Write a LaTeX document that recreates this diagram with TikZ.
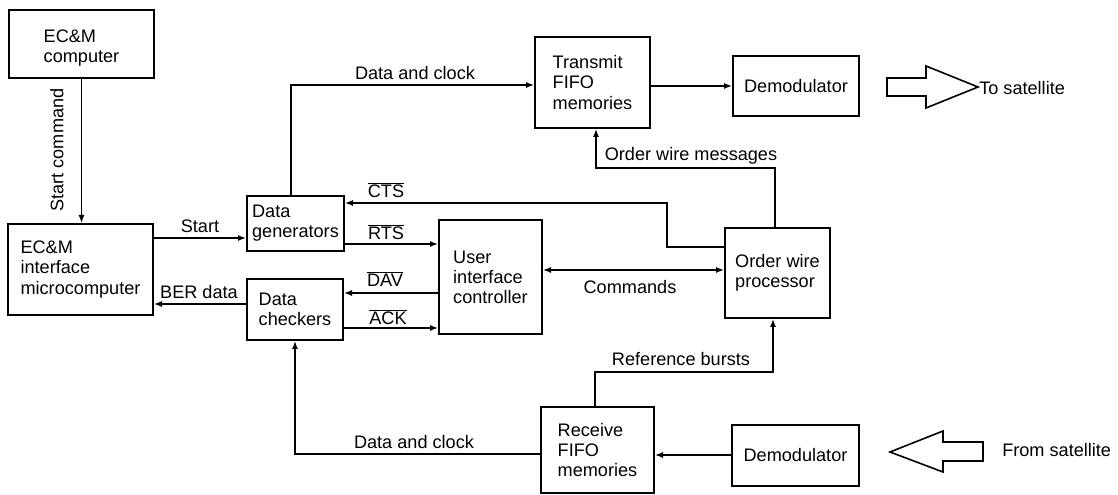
\documentclass[tikz,border=0pt]{standalone}
\usepackage{fontspec}
\setmainfont{Liberation Sans}
\usetikzlibrary{arrows.meta}
\begin{document}
\begin{tikzpicture}[x=0.75pt,y=-0.75pt,
  font=\fontsize{13.6}{15.2}\selectfont,
  box/.style={draw,line width=1.5pt,inner sep=0pt,align=left},
  conn/.style={line width=1pt},
  arr/.style={conn,-{Latex[length=6pt,width=4.5pt]}},
  darr/.style={conn,{Latex[length=6pt,width=4.5pt]}-{Latex[length=6pt,width=4.5pt]}},
  lbl/.style={inner sep=0pt},
  hollow/.style={line width=1.2pt,line join=miter}]
\useasboundingbox (0,0) rectangle (1118,495);
% boxes
\node[box,minimum width=145*0.75pt,minimum height=68*0.75pt] (ecmc) at (81.5,44) {\rule{0pt}{16pt}EC\&M\\computer};
\node[box,minimum width=145*0.75pt,minimum height=91*0.75pt] (ecmi) at (80.5,269.5) {EC\&M\\interface\\microcomputer};
\node[box,minimum width=97*0.75pt,minimum height=55*0.75pt] (dgen) at (295.5,223.5) {Data\\generators};
\node[box,minimum width=96*0.75pt,minimum height=61*0.75pt] (dchk) at (295,309.5) {Data\\checkers};
\node[box,minimum width=103*0.75pt,minimum height=114*0.75pt] (uic) at (490.5,277.5) {User\\interface\\controller};
\node[box,minimum width=115*0.75pt,minimum height=91*0.75pt] (tx) at (592.5,82.5) {Transmit\\FIFO\\memories};
\node[box,minimum width=126*0.75pt,minimum height=60*0.75pt] (dem1) at (796,86.5) {Demodulator};
\node[box,minimum width=105*0.75pt,minimum height=90*0.75pt] (owp) at (777.5,273) {Order wire\\processor};
\node[box,minimum width=113*0.75pt,minimum height=86*0.75pt] (rx) at (597.5,450) {Receive\\FIFO\\memories};
\node[box,minimum width=127*0.75pt,minimum height=61*0.75pt] (dem2) at (795.5,455.5) {Demodulator};
% connectors
\draw[arr] (ecmc.south) -- (ecmc.south |- ecmi.north);
\draw[arr] (ecmi.east |- 0,238) -- (dgen.west |- 0,238);
\draw[arr] (dchk.west |- 0,304) -- (ecmi.east |- 0,304);
\draw[arr] (dgen.north -| 291,0) |- (tx.west |- 0,85);
\draw[arr] (owp.west |- 0,247) -| (667,203) -- (dgen.east |- 0,203);
\draw[arr] (dgen.east |- 0,244) -- (uic.west |- 0,244);
\draw[arr] (uic.west |- 0,293) -- (dchk.east |- 0,293);
\draw[arr] (dchk.east |- 0,328) -- (uic.west |- 0,328);
\draw[darr] (uic.east |- 0,270) -- (owp.west |- 0,270);
\draw[arr] (tx.east |- 0,86) -- (dem1.west |- 0,86);
\draw[arr] (owp.north -| 775,0) |- (596,168) -- (tx.south -| 596,0);
\draw[arr] (rx.north -| 595,0) |- (773,372) -- (owp.south -| 773,0);
\draw[arr] (dem2.west |- 0,455) -- (rx.east |- 0,455);
\draw[arr] (rx.west |- 0,454) -| (dchk.south -| 295,0);
% labels
\node[lbl,rotate=90] (lsc) at (57,150) {Start command};
\node[lbl] (lst) at (200,226) {Start};
\node[lbl] (lber) at (199,292) {BER data};
\node[lbl] (ldc1) at (415,73) {Data and clock};
\node[lbl] (lcts) at (386,190) {$\overline{\mbox{CTS}}$};
\node[lbl] (lrts) at (386,232) {$\overline{\mbox{RTS}}$};
\node[lbl] (ldav) at (385,279) {$\overline{\mbox{DAV}}$};
\node[lbl] (lack) at (388,317) {$\overline{\mbox{ACK}}$};
\node[lbl] (lcmd) at (630,287) {Commands};
\node[lbl] (lowm) at (691,156) {Order wire messages};
\node[lbl] (lrb) at (681,359) {Reference bursts};
\node[lbl] (ldc2) at (414,442) {Data and clock};
\node[lbl,anchor=west] (lto) at (979,88) {To satellite};
\node[lbl,anchor=west] (lfrom) at (1002,450) {From satellite};
% hollow arrows
\draw[hollow] (887,78) -- (926,78) -- (926,66) -- (978,87) -- (926,108) -- (926,96) -- (887,96) -- cycle;
\draw[hollow] (890,452) -- (943,431) -- (943,442) -- (983,442) -- (983,461) -- (943,461) -- (943,472) -- cycle;
\end{tikzpicture}
\end{document}
